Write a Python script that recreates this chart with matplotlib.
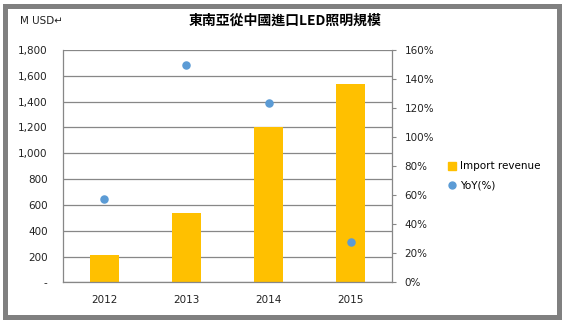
import matplotlib
matplotlib.use('Agg')
import matplotlib.pyplot as plt
from matplotlib.patches import Rectangle
from matplotlib.lines import Line2D

# values
years = ['2012', '2013', '2014', '2015']
revenue = [212, 540, 1205, 1538]      # M USD
yoy = [57.5, 150, 123.5, 28]          # %

left_ticks = [0, 200, 400, 600, 800, 1000, 1200, 1400, 1600, 1800]
left_labels = ['-', '200', '400', '600', '800', '1,000', '1,200', '1,400', '1,600', '1,800']
right_ticks = [0, 20, 40, 60, 80, 100, 120, 140, 160]
right_labels = ['%d%%' % v for v in right_ticks]

title = '東南亞從中國進口LED照明規模'

bar_color = '#FFC000'
dot_color = '#5B9BD5'
grid_color = '#878787'
text_color = '#404040'

plt.rcParams['font.family'] = ['DejaVu Sans']

fig = plt.figure(figsize=(5.65, 3.23), dpi=100)
ax = fig.add_axes([63 / 565, 1 - 282.4 / 323, 329 / 565, 232.4 / 323])

x = range(len(years))
ax.bar(x, revenue, width=0.35, color=bar_color, zorder=2)
ax.set_xlim(-0.5, 3.5)
ax.set_ylim(0, 1800)
ax.set_yticks(left_ticks)
ax.set_yticklabels(left_labels)
ax.set_xticks(list(x))
ax.set_xticklabels(years)
ax.yaxis.grid(True, color=grid_color, linewidth=0.9, zorder=0)
ax.set_axisbelow(True)
ax.tick_params(axis='y', length=0, pad=11, labelsize=7.5, labelcolor='#222222')
ax.tick_params(axis='x', length=0, pad=9, labelsize=7.5, labelcolor='#222222')
for side in ['top', 'right']:
    ax.spines[side].set_visible(False)
ax.spines['left'].set_color(grid_color)
ax.spines['bottom'].set_color(grid_color)
ax.spines['left'].set_linewidth(0.9)
ax.spines['bottom'].set_linewidth(0.9)

ax2 = ax.twinx()
ax2.scatter(list(x), yoy, s=26, color=dot_color, zorder=3)
ax2.set_ylim(0, 160)
ax2.set_yticks(right_ticks)
ax2.set_yticklabels(right_labels)
ax2.tick_params(axis='y', length=3, width=0.8, color=grid_color, pad=6, labelsize=7.5,
                labelcolor='#222222')
for side in ['top', 'left', 'bottom']:
    ax2.spines[side].set_visible(False)
ax2.spines['right'].set_color(grid_color)
ax2.spines['right'].set_linewidth(0.9)

# legend
handles = [Line2D([], [], marker='s', linestyle='none', color=bar_color, markersize=6),
           Line2D([], [], marker='o', linestyle='none', color=dot_color, markersize=5)]
fig.legend(handles, ['Import revenue', 'YoY(%)'], loc='center left',
           bbox_to_anchor=(444 / 565, 1 - 176 / 323), frameon=False, fontsize=7.5,
           handlelength=0.8, handletextpad=0.3, labelspacing=0.9, borderaxespad=0)

fig.text(285 / 565, 1 - 21 / 323, title, ha='center', va='center', fontsize=10,
         fontweight='bold', family=['Noto Sans CJK TC', 'DejaVu Sans'])
fig.text(20 / 565, 1 - 21 / 323, 'M USD\u21b5', ha='left', va='center', fontsize=7.5,
         color='#222222')

# grey picture frame
fig.add_artist(Rectangle((4.5 / 565, 1 - 316.5 / 323), 554 / 565, 311 / 323,
                         transform=fig.transFigure, fill=False, edgecolor='#808080',
                         linewidth=3.6))

fig.savefig('out.png', dpi=100)
